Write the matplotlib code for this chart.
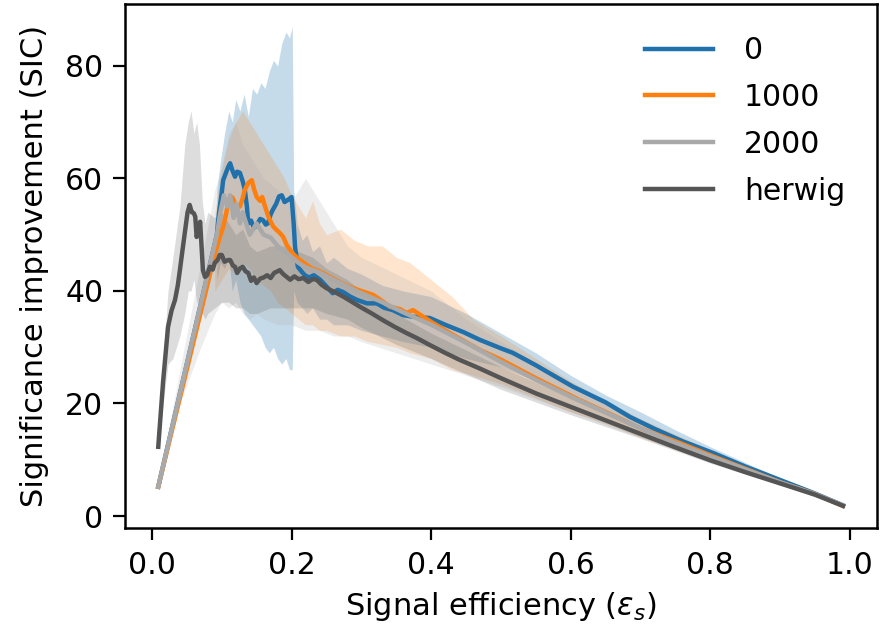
import matplotlib

matplotlib.use("Agg")
import matplotlib.pyplot as plt

# SIC curves (signal efficiency vs SIC)
labels = ["0", "1000", "2000", "herwig"]
colors = ["#1f70ab", "#ff7f0e", "#a9a9a9", "#555555"]

x_0 = [0.009, 0.093, 0.096, 0.100, 0.102, 0.106, 0.109, 0.112, 0.115, 0.119,
       0.122, 0.126, 0.130, 0.133, 0.136, 0.138, 0.142, 0.146, 0.150, 0.155,
       0.159, 0.163, 0.166, 0.170, 0.173, 0.178, 0.182, 0.186, 0.190, 0.195,
       0.200, 0.203, 0.205, 0.209, 0.214, 0.219, 0.225, 0.232, 0.241, 0.250,
       0.259, 0.266, 0.274, 0.284, 0.294, 0.308, 0.322, 0.333, 0.345, 0.360,
       0.375, 0.398, 0.420, 0.446, 0.470, 0.500, 0.517, 0.550, 0.575, 0.603,
       0.650, 0.685, 0.720, 0.760, 0.804, 0.850, 0.900, 0.950, 0.990]
y_0 = [5.2, 50.0, 53.9, 57.5, 59.7, 61.0, 62.0, 62.7, 61.5, 60.3,
       61.2, 61.0, 59.5, 58.0, 55.0, 52.0, 52.5, 51.2, 51.7, 52.8,
       52.6, 51.8, 52.0, 53.6, 54.4, 55.5, 56.8, 57.0, 55.8, 56.2,
       56.7, 52.0, 47.8, 44.3, 43.5, 42.8, 42.4, 42.8, 42.0, 40.8,
       39.6, 40.2, 39.8, 39.0, 38.4, 37.8, 37.8, 37.0, 36.6, 35.7,
       35.4, 35.2, 34.0, 32.7, 31.3, 29.8, 29.0, 26.8, 25.0, 23.0,
       20.2, 17.6, 15.5, 13.3, 11.2, 8.8, 6.4, 4.0, 1.9]

x_1000 = [0.009, 0.090, 0.093, 0.097, 0.102, 0.106, 0.109, 0.113, 0.116, 0.120,
          0.126, 0.130, 0.133, 0.138, 0.143, 0.146, 0.150, 0.155, 0.158, 0.162,
          0.166, 0.169, 0.174, 0.179, 0.184, 0.188, 0.193, 0.198, 0.203, 0.208,
          0.215, 0.222, 0.229, 0.236, 0.245, 0.255, 0.270, 0.284, 0.300, 0.317,
          0.330, 0.341, 0.355, 0.365, 0.374, 0.400, 0.430, 0.470, 0.500, 0.550,
          0.613, 0.650, 0.700, 0.756, 0.800, 0.850, 0.900, 0.950, 0.990]
y_1000 = [5.2, 46.5, 47.8, 49.5, 51.4, 53.5, 55.6, 56.8, 56.5, 55.2,
          55.0, 56.5, 58.0, 59.2, 59.7, 58.2, 56.7, 56.0, 56.7, 55.0,
          53.5, 52.6, 51.4, 50.8, 50.2, 49.6, 48.2, 47.3, 46.5, 45.9,
          45.2, 44.6, 44.0, 43.7, 43.2, 42.5, 41.5, 40.7, 40.0, 39.3,
          38.2, 37.2, 36.8, 36.1, 36.6, 34.5, 32.3, 29.5, 27.8, 24.5,
          20.6, 18.5, 15.6, 13.0, 10.8, 8.4, 6.0, 3.9, 1.8]

x_2000 = [0.009, 0.093, 0.098, 0.103, 0.108, 0.112, 0.117, 0.121, 0.126, 0.130,
          0.140, 0.150, 0.160, 0.170, 0.180, 0.190, 0.200, 0.210, 0.220, 0.240,
          0.260, 0.280, 0.300, 0.330, 0.360, 0.400, 0.450, 0.500, 0.550, 0.600,
          0.650, 0.700, 0.750, 0.800, 0.850, 0.900, 0.950, 0.990]
y_2000 = [5.2, 50.0, 54.0, 57.0, 55.0, 57.0, 53.0, 55.5, 52.0, 54.0,
          50.0, 52.0, 50.0, 49.5, 48.0, 47.0, 46.0, 45.0, 44.2, 43.3,
          42.0, 40.8, 39.6, 38.0, 36.2, 34.0, 30.8, 27.4, 24.2, 21.2,
          18.4, 15.6, 13.0, 10.6, 8.3, 6.0, 3.9, 1.9]

x_herwig = [0.009, 0.016, 0.023, 0.028, 0.033, 0.037, 0.040, 0.044, 0.047, 0.051,
            0.054, 0.057, 0.060, 0.062, 0.064, 0.066, 0.069, 0.071, 0.073, 0.076,
            0.079, 0.083, 0.087, 0.090, 0.094, 0.097, 0.100, 0.104, 0.109, 0.112,
            0.116, 0.119, 0.122, 0.126, 0.130, 0.134, 0.138, 0.142, 0.146, 0.150,
            0.155, 0.160, 0.165, 0.170, 0.175, 0.180, 0.183, 0.188, 0.193, 0.198,
            0.204, 0.210, 0.217, 0.224, 0.230, 0.236, 0.243, 0.250, 0.262, 0.274,
            0.286, 0.298, 0.315, 0.331, 0.348, 0.365, 0.380, 0.398, 0.420, 0.440,
            0.470, 0.500, 0.550, 0.600, 0.650, 0.700, 0.750, 0.800, 0.850, 0.900,
            0.950, 0.990]
y_herwig = [12.3, 24.0, 33.6, 36.5, 38.4, 41.0, 43.7, 47.5, 50.3, 54.0,
            55.3, 54.0, 53.8, 53.2, 49.6, 50.5, 52.3, 48.0, 43.7, 42.5,
            42.8, 44.3, 43.8, 45.0, 45.5, 46.4, 46.4, 45.2, 45.5, 45.5,
            44.5, 44.3, 43.2, 44.0, 44.3, 43.5, 43.2, 41.8, 42.4, 41.4,
            42.2, 42.4, 42.8, 42.3, 43.2, 43.5, 43.7, 43.0, 42.5, 42.0,
            42.6, 42.1, 42.3, 41.6, 42.1, 42.0, 41.1, 40.5, 39.8, 39.0,
            38.1, 37.2, 36.0, 34.8, 33.6, 32.5, 31.6, 30.4, 29.0, 27.8,
            26.2, 24.5, 21.8, 19.4, 17.0, 14.6, 12.2, 9.9, 7.8, 5.8,
            3.8, 1.8]

# uncertainty bands (lower / upper edge)
xb_0 = [0.093, 0.098, 0.104, 0.110, 0.115, 0.120, 0.126, 0.132, 0.138, 0.144,
        0.150, 0.156, 0.162, 0.168, 0.174, 0.180, 0.186, 0.192, 0.197, 0.201,
        0.203, 0.208, 0.215, 0.222, 0.230, 0.240, 0.250, 0.260, 0.280, 0.300,
        0.330, 0.360, 0.400, 0.450, 0.500, 0.550, 0.600, 0.650, 0.700, 0.750,
        0.800, 0.850, 0.900, 0.950, 0.990]
lo_0 = [42, 45, 44, 46, 40, 42, 38, 36, 35, 34,
        33, 32, 30, 29, 30, 28, 27, 28, 26, 26,
        40, 38, 37, 36, 37, 35, 35, 34, 34, 33,
        32, 31, 30, 28, 26.5, 24, 21, 18.5, 15.5, 13,
        10.5, 8.2, 5.8, 3.7, 1.7]
hi_0 = [58, 63, 68, 72, 70, 74, 72, 75, 71, 76,
        75, 77, 76, 79, 81, 80, 84, 86, 85, 87,
        58, 52, 49, 50, 47, 48, 45, 46, 44, 43,
        41, 40, 39, 36, 32.5, 29, 25, 21.5, 18.5, 15.3,
        12.3, 9.5, 6.8, 4.2, 2.0]

xb_1000 = [0.09, 0.10, 0.11, 0.12, 0.13, 0.14, 0.15, 0.16, 0.17, 0.18,
           0.19, 0.20, 0.21, 0.22, 0.23, 0.24, 0.25, 0.27, 0.29, 0.31,
           0.33, 0.35, 0.37, 0.40, 0.43, 0.46, 0.50, 0.55, 0.60, 0.65,
           0.70, 0.75, 0.80, 0.85, 0.90, 0.95, 0.99]
lo_1000 = [40, 42, 44, 43, 45, 44, 42, 41, 40, 38,
           37, 36, 35, 34, 34, 33, 33, 32, 32, 31,
           30.5, 30, 29, 28, 26, 25, 23.5, 21, 18.5, 16.5,
           14, 11.8, 9.6, 7.6, 5.6, 3.6, 1.7]
hi_1000 = [54, 62, 67, 70, 72, 70, 68, 66, 64, 62,
           60, 57, 55, 53, 56, 52, 50, 51, 49, 48,
           48, 46, 45, 42, 39, 35, 32, 28, 24, 20.5,
           17.3, 14.5, 11.8, 9.2, 6.7, 4.2, 2.0]

xb_2000 = [0.009, 0.04, 0.07, 0.09, 0.10, 0.11, 0.12, 0.13, 0.14, 0.15,
           0.16, 0.18, 0.20, 0.22, 0.24, 0.26, 0.28, 0.30, 0.35, 0.40,
           0.45, 0.50, 0.60, 0.70, 0.80, 0.90, 0.99]
lo_2000 = [5, 20, 30, 36, 38, 37, 38, 36, 35, 36,
           35, 34, 34, 33, 33, 32, 32, 31, 29, 27,
           25, 23, 18.5, 14, 9.6, 5.6, 1.7]
hi_2000 = [5.5, 26, 45, 58, 62, 68, 70, 66, 64, 62,
           60, 58, 56, 60, 56, 52, 48, 46, 43, 40,
           35, 31, 23.5, 17, 11.5, 6.5, 2.0]

xb_herwig = [0.009, 0.016, 0.023, 0.03, 0.04, 0.047, 0.052, 0.056, 0.06, 0.064,
             0.068, 0.072, 0.076, 0.08, 0.09, 0.10, 0.11, 0.12, 0.13, 0.14,
             0.15, 0.17, 0.19, 0.21, 0.23, 0.25, 0.28, 0.30, 0.35, 0.40,
             0.50, 0.60, 0.70, 0.80, 0.90, 0.99]
lo_herwig = [12, 20, 27, 28, 32, 36, 40, 40, 42, 38,
             38, 36, 35, 36, 37, 38, 38, 37, 37, 36,
             36, 37, 37, 37, 37, 36, 35, 33.5, 30.5, 28,
             22.5, 18, 13.8, 9.4, 5.5, 1.7]
hi_herwig = [12.6, 28, 40, 46, 55, 66, 70, 72, 68, 70,
             66, 56, 52, 54, 53, 54, 52, 50, 51, 48,
             47, 48, 48, 47, 46, 44, 42, 40, 36, 32.5,
             26.5, 21, 15.5, 10.6, 6.2, 2.0]


def plot_sic():
    fig = plt.figure(figsize=(8.85, 6.3), dpi=100)
    ax = fig.add_axes([0.1412, 0.1619, 0.8497, 0.8317])

    bands = [(xb_0, lo_0, hi_0, 0.25),
             (xb_1000, lo_1000, hi_1000, 0.2),
             (xb_2000, lo_2000, hi_2000, 0.2),
             (xb_herwig, lo_herwig, hi_herwig, 0.2)]
    for (xb, lo, hi, alpha), color in zip(bands, colors):
        ax.fill_between(xb, lo, hi, color=color, alpha=alpha, linewidth=0)

    curves = [(x_0, y_0), (x_1000, y_1000), (x_2000, y_2000), (x_herwig, y_herwig)]
    for (x, y), color, label in zip(curves, colors, labels):
        ax.plot(x, y, color=color, linewidth=3.2, label=label)

    ax.set_xlim(-0.0387, 1.0387)
    ax.set_ylim(-2.13, 91.0)
    ax.set_xticks([0.0, 0.2, 0.4, 0.6, 0.8, 1.0])
    ax.set_yticks([0, 20, 40, 60, 80])

    for side in ax.spines.values():
        side.set_linewidth(1.8)
    ax.tick_params(axis="both", which="major", labelsize=21.5,
                   length=8.5, width=1.6)
    ax.tick_params(axis="x", pad=8)
    ax.tick_params(axis="y", pad=7)

    ax.set_xlabel(r"Signal efficiency ($\epsilon_s$)", fontsize=22, labelpad=7)
    ax.set_ylabel("Significance improvement (SIC)", fontsize=22, labelpad=12)

    ax.legend(loc="upper left", bbox_to_anchor=(0.6915, 0.939), frameon=False,
              fontsize=21.5, borderpad=0, borderaxespad=0, handlelength=2.27,
              handletextpad=1.04, labelspacing=0.6)

    fig.savefig("out.png", dpi=100)


if __name__ == "__main__":
    plot_sic()
